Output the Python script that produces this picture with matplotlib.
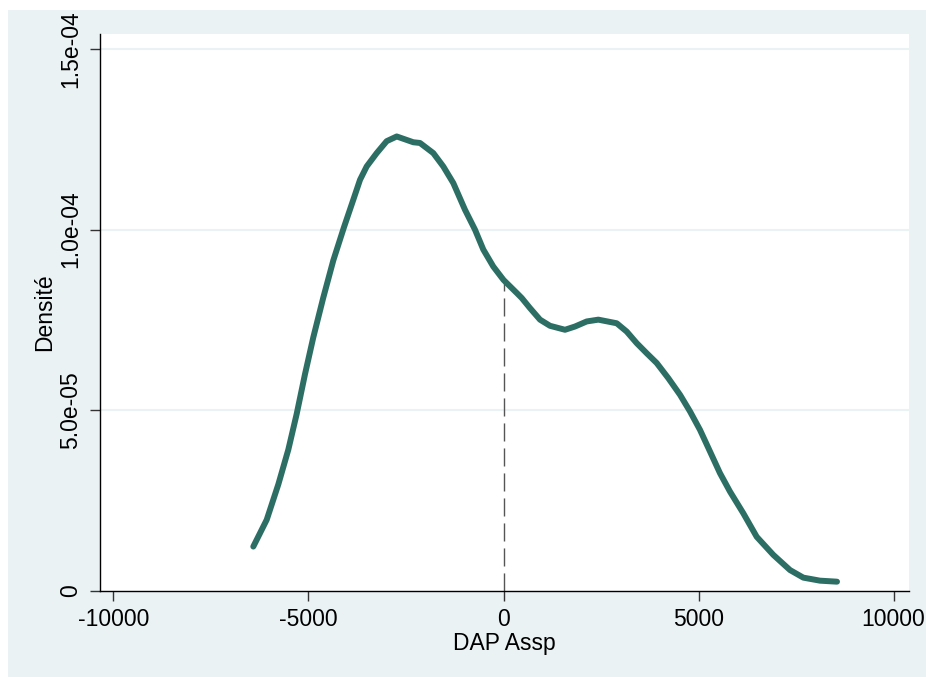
import numpy as np
import matplotlib.pyplot as plt
from matplotlib.patches import Rectangle

# kernel density estimate
dap = [-6415, -6072, -5774, -5518, -5303, -5090, -4877, -4621, -4364, -4090,
       -3851, -3679, -3508, -3251, -2995, -2738, -2313, -2141, -1800, -1544,
       -1287, -987, -731, -518, -262, 0, 338, 467, 679, 936, 1192, 1577, 1833,
       2133, 2431, 2903, 3159, 3415, 3672, 3928, 4226, 4526, 4782, 5038,
       5295, 5551, 5808, 6149, 6492, 6918, 7346, 7687, 8115, 8551]
dens = [1.23e-5, 1.97e-5, 2.95e-5, 3.91e-5, 4.90e-5, 6.00e-5, 7.02e-5, 8.12e-5,
        9.15e-5, 1.007e-4, 1.083e-4, 1.138e-4, 1.175e-4, 1.212e-4, 1.245e-4,
        1.258e-4, 1.242e-4, 1.240e-4, 1.212e-4, 1.175e-4, 1.129e-4, 1.055e-4,
        1.0e-4, 9.45e-5, 8.98e-5, 8.61e-5, 8.25e-5, 8.11e-5, 7.83e-5, 7.51e-5,
        7.34e-5, 7.23e-5, 7.32e-5, 7.46e-5, 7.51e-5, 7.41e-5, 7.18e-5, 6.86e-5,
        6.58e-5, 6.31e-5, 5.89e-5, 5.43e-5, 4.97e-5, 4.46e-5, 3.86e-5, 3.26e-5,
        2.75e-5, 2.15e-5, 1.50e-5, 1.00e-5, 5.8e-6, 3.7e-6, 2.86e-6, 2.58e-6]
xticks = [-10000, -5000, 0, 5000, 10000]
yticks = [0, 5e-5, 1e-4, 1.5e-4]
ylabels = ['0', '5.0e-05', '1.0e-04', '1.5e-04']
vline_x = 0
vline_top = 8.61e-5

bg = '#EAF2F3'
plt.rcParams['font.family'] = ['Liberation Sans', 'DejaVu Sans']

fig = plt.figure(figsize=(9.26, 6.77), dpi=100, facecolor='white')
fig.patches.append(Rectangle((8 / 926, 0), 1, 667 / 677, transform=fig.transFigure,
                             facecolor=bg, edgecolor='none', zorder=-10))
ax = fig.add_axes([100 / 926, 86 / 677, 809 / 926, 557 / 677])
ax.set_facecolor('white')

ax.plot(dap, dens, color='#2D6E64', lw=4.3, solid_capstyle='round',
        solid_joinstyle='round', zorder=3)
ax.plot([vline_x, vline_x], [0, vline_top], color='#555555', lw=1.0,
        dashes=(13, 5), zorder=2)

ax.set_xlim(-10346, 10397)
ax.set_ylim(0, 1.5416e-4)
ax.set_xticks(xticks)
ax.set_xticklabels([str(v) for v in xticks])
ax.set_yticks(yticks)
ax.set_yticklabels(ylabels, rotation=90, va='center')
for y in yticks[1:]:
    ax.axhline(y, color=bg, lw=1.5, zorder=1)

for s in ['top', 'right']:
    ax.spines[s].set_visible(False)
for s in ['left', 'bottom']:
    ax.spines[s].set_color('black')
    ax.spines[s].set_linewidth(1.0)
ax.tick_params(axis='both', length=7, width=1, color='#333333',
               labelsize=16.5, labelcolor='black')
ax.tick_params(axis='x', pad=5)
ax.tick_params(axis='y', pad=6)

ax.set_xlabel('DAP Assp', fontsize=16.5, labelpad=1)
ax.set_ylabel('Densité', fontsize=16.5, labelpad=2)

fig.savefig('out.png', dpi=100, facecolor='white')
